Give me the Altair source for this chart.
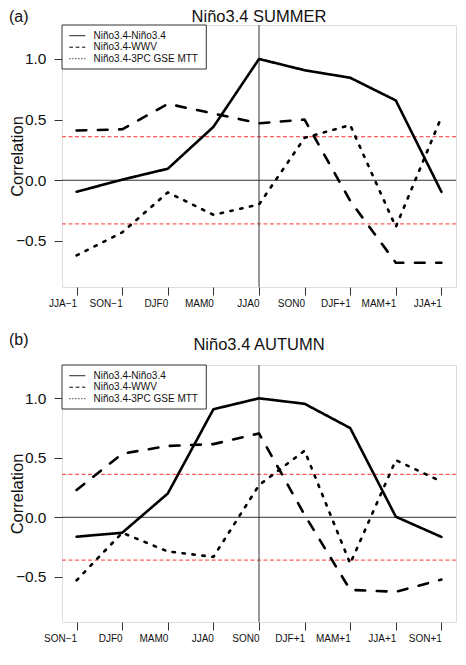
import altair as alt
import pandas as pd

series = ["Niño3.4-Niño3.4", "Niño3.4-WWV", "Niño3.4-3PC GSE MTT"]

summer_months = ["JJA−1", "SON−1", "DJF0", "MAM0", "JJA0", "SON0", "DJF+1", "MAM+1", "JJA+1"]
summer_nino = [-0.095, 0.005, 0.095, 0.44, 1.0, 0.907, 0.845, 0.658, -0.095]
summer_wwv = [0.41, 0.42, 0.63, 0.55, 0.47, 0.50, -0.17, -0.68, -0.68]
summer_gse = [-0.62, -0.43, -0.10, -0.285, -0.20, 0.35, 0.455, -0.385, 0.52]

autumn_months = ["SON−1", "DJF0", "MAM0", "JJA0", "SON0", "DJF+1", "MAM+1", "JJA+1", "SON+1"]
autumn_nino = [-0.163, -0.13, 0.20, 0.908, 1.0, 0.954, 0.75, 0.005, -0.165]
autumn_wwv = [0.23, 0.534, 0.60, 0.615, 0.705, 0.02, -0.61, -0.626, -0.523]
autumn_gse = [-0.53, -0.13, -0.287, -0.333, 0.27, 0.56, -0.39, 0.48, 0.30]

sig_levels = [0.36, -0.36]

panels = [
    ("(a)", "Niño3.4 SUMMER", summer_months, [summer_nino, summer_wwv, summer_gse], "JJA0", 262, -8.5, -8.5),
    ("(b)", "Niño3.4 AUTUMN", autumn_months, [autumn_nino, autumn_wwv, autumn_gse], "SON0", 257, -25, -20),
]

W = 394
LEFT = -53
FONT = "Liberation Sans"
data_dash = [[1, 0], [9.7, 11.6], [2.4, 7.6]]
legend_dash = [[1, 0], [3.7, 2.7], [1.1, 1.9]]
legend_rows = [10.7, 22.2, 33.7]


def panel(tag, title, months, vals, vline, H, tag_y, title_y):
    rows = []
    for s, v in zip(series, vals):
        for m, y in zip(months, v):
            rows.append({"month": m, "series": s, "value": y})
    df = pd.DataFrame(rows)

    xscale = alt.Scale(type="point", domain=months, padding=0.32)
    yscale = alt.Scale(domain=[-0.88, 1.28], nice=False, zero=False)

    xenc = alt.X("month:N", scale=xscale, sort=months,
                 axis=alt.Axis(title=None, labelAngle=0, labelFontSize=10, labelFont=FONT,
                               labelColor="#111", tickSize=8, tickColor="#333", domain=False,
                               labelPadding=8, grid=False))
    yenc = alt.Y("value:Q", scale=yscale,
                 axis=alt.Axis(title="Correlation", values=[-0.5, 0, 0.5, 1.0], format=".1f",
                               labelFontSize=15.5, labelFont=FONT, labelColor="#111",
                               tickSize=8, tickColor="#333", labelPadding=8, domain=False,
                               grid=False, titleFontSize=16.5, titleFont=FONT,
                               titleFontWeight="normal", titleColor="#111",
                               titleX=LEFT + 16.5, titleBaseline="bottom"))

    base = alt.Chart(df)
    lines = base.mark_line(color="black", strokeWidth=2.6, strokeCap="round", strokeJoin="round").encode(
        x=xenc, y=yenc,
        strokeDash=alt.StrokeDash("series:N", scale=alt.Scale(domain=series, range=data_dash), legend=None),
        detail="series:N",
    )

    zero = alt.Chart(pd.DataFrame({"z": [0]})).mark_rule(color="#333", strokeWidth=1).encode(
        y=alt.Y("z:Q", scale=yscale))
    vl = alt.Chart(pd.DataFrame({"m": [vline]})).mark_rule(color="#333", strokeWidth=1).encode(
        x=alt.X("m:N", scale=xscale, sort=months))
    sig = alt.Chart(pd.DataFrame({"s": sig_levels})).mark_rule(
        color="#ff5c5c", strokeWidth=1.2, strokeDash=[4, 2.5]).encode(y=alt.Y("s:Q", scale=yscale))

    legbox = alt.Chart(pd.DataFrame({"a": [0]})).mark_rect(
        fill="white", stroke="#333", strokeWidth=1).encode(
        x=alt.value(0), x2=alt.value(144.3), y=alt.value(0), y2=alt.value(44))
    leg_layers = [legbox]
    for s, d, yy in zip(series, legend_dash, legend_rows):
        leg_layers.append(
            alt.Chart(pd.DataFrame({"s": [s]})).mark_rule(color="black", strokeWidth=1, strokeDash=d).encode(
                x=alt.value(7.3), x2=alt.value(23.3), y=alt.value(yy)))
        leg_layers.append(
            alt.Chart(pd.DataFrame({"s": [s]})).mark_text(
                align="left", baseline="middle", fontSize=10, font=FONT, color="#111").encode(
                text="s:N", x=alt.value(31.5), y=alt.value(yy)))

    tag_t = alt.Chart(pd.DataFrame({"t": [tag]})).mark_text(
        align="left", baseline="middle", fontSize=16, font=FONT, color="#111").encode(
        text="t:N", x=alt.value(LEFT), y=alt.value(tag_y))
    title_t = alt.Chart(pd.DataFrame({"t": [title]})).mark_text(
        align="center", baseline="middle", fontSize=16.5, font=FONT, color="#111").encode(
        text="t:N", x=alt.value(W / 2), y=alt.value(title_y))

    return alt.layer(sig, zero, vl, lines, *leg_layers, tag_t, title_t).properties(width=W, height=H)


charts = [panel(*p) for p in panels]
chart = alt.vconcat(*charts, spacing=22).properties(padding=0).configure_view(
    stroke="#333", strokeWidth=1).configure(background="white")

chart.save("out.html", embed_options={"renderer": "svg", "actions": False})
